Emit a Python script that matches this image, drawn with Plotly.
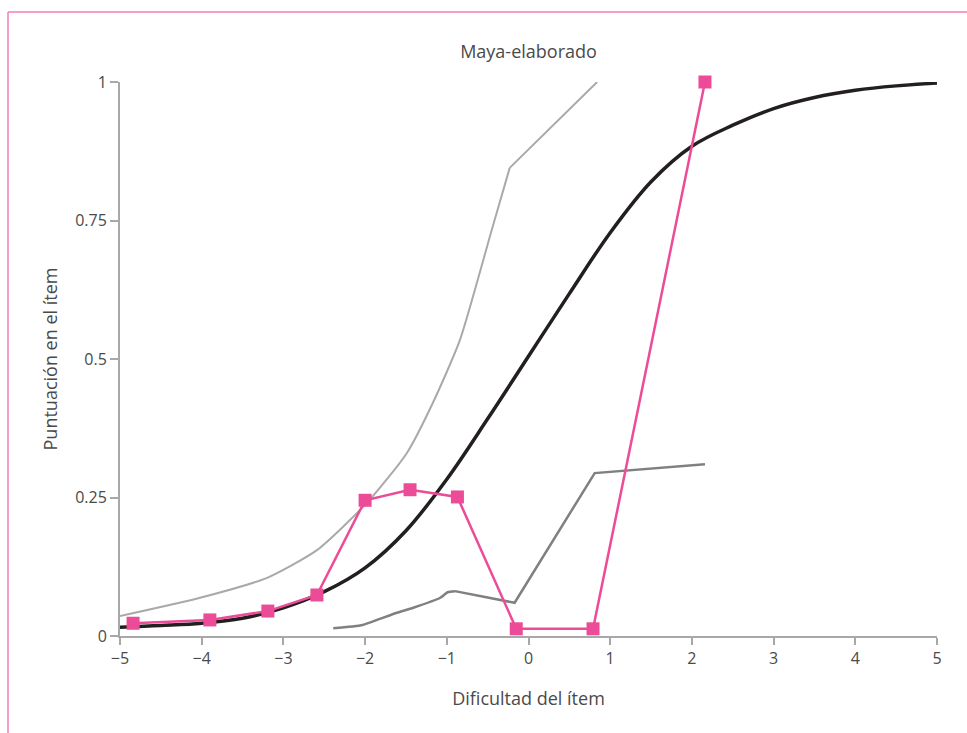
import plotly.graph_objects as go

# Observed item scores (pink squares)
obs_x = [-4.84, -3.90, -3.19, -2.59, -2.00, -1.45, -0.87, -0.15, 0.79, 2.16]
obs_y = [0.023, 0.029, 0.045, 0.074, 0.245, 0.264, 0.251, 0.013, 0.013, 1.0]

# Expected score curve (thick black)
exp_x = [-5.0, -4.5, -4.0, -3.5, -3.0, -2.5, -2.0, -1.5, -1.0, -0.5, 0.0,
         0.5, 1.0, 1.5, 2.0, 2.5, 3.0, 3.5, 4.0, 4.5, 5.0]
exp_y = [0.016, 0.019, 0.023, 0.032, 0.051, 0.080, 0.123, 0.19, 0.283, 0.392, 0.505,
         0.618, 0.728, 0.820, 0.884, 0.922, 0.952, 0.972, 0.985, 0.993, 0.998]

# Upper band (light grey)
up_x = [-5.0, -4.02, -3.20, -2.59, -1.98, -1.49, -1.17, -0.84, -0.45, -0.23, 0.84]
up_y = [0.036, 0.069, 0.105, 0.155, 0.240, 0.330, 0.421, 0.534, 0.733, 0.845, 1.0]

# Lower band (dark grey)
lo_x = [-2.39, -2.03, -1.82, -1.61, -1.41, -1.08, -0.99, -0.90, -0.17, 0.81, 2.16]
lo_y = [0.014, 0.020, 0.031, 0.042, 0.051, 0.069, 0.079, 0.081, 0.060, 0.294, 0.310]

x_ticks = [-5, -4, -3, -2, -1, 0, 1, 2, 3, 4, 5]
y_ticks = [0, 0.25, 0.5, 0.75, 1]
y_tick_text = ["0", "0.25", "0.5", "0.75", "1"]

FONT = "Open Sans"
TEXT = "#4a4a4a"
AXIS = "#a8a8a8"

fig = go.Figure()
# upper band: smooth rise, then a straight segment after the bend
fig.add_trace(go.Scatter(x=up_x[:-1], y=up_y[:-1], mode="lines",
                         line=dict(color="#a9a9a9", width=2, shape="spline", smoothing=0.6),
                         cliponaxis=False))
fig.add_trace(go.Scatter(x=up_x[-2:], y=up_y[-2:], mode="lines",
                         line=dict(color="#a9a9a9", width=2), cliponaxis=False))
# lower band: smooth start, then straight segments
fig.add_trace(go.Scatter(x=lo_x[:8], y=lo_y[:8], mode="lines",
                         line=dict(color="#808080", width=2.5, shape="spline", smoothing=0.6),
                         cliponaxis=False))
fig.add_trace(go.Scatter(x=lo_x[7:], y=lo_y[7:], mode="lines",
                         line=dict(color="#808080", width=2.5), cliponaxis=False))
fig.add_trace(go.Scatter(x=exp_x, y=exp_y, mode="lines",
                         line=dict(color="#231f20", width=3.5, shape="spline", smoothing=1.0),
                         cliponaxis=False))
fig.add_trace(go.Scatter(x=obs_x, y=obs_y, mode="lines+markers",
                         line=dict(color="#ec4b97", width=2.5),
                         marker=dict(symbol="square", size=13, color="#ec4b97"),
                         cliponaxis=False))

W, H = 967, 733
L, R, T, B = 120, 30, 82, 97
pw, ph = W - L - R, H - T - B


def px_to_paper(px, py):
    return (px - L) / pw, (H - B - py) / ph


# Pink frame along the top and left edges
fx0, fy0 = px_to_paper(8, 12)
fx1, _ = px_to_paper(967, 12)
_, fyb = px_to_paper(8, 733)
frame = "#f27fb6"
fig.add_shape(type="line", xref="paper", yref="paper", x0=fx0, y0=fy0, x1=fx1, y1=fy0,
              line=dict(color=frame, width=1.5))
fig.add_shape(type="line", xref="paper", yref="paper", x0=fx0, y0=fy0, x1=fx0, y1=fyb,
              line=dict(color=frame, width=1.5))

fig.update_layout(
    width=W, height=H,
    margin=dict(l=L, r=R, t=T, b=B),
    paper_bgcolor="white", plot_bgcolor="white",
    showlegend=False,
    font=dict(family=FONT, color=TEXT, size=15),
    title=dict(text="Maya-elaborado", x=(L + pw / 2) / W, xanchor="center",
               y=1 - 52 / H, yanchor="middle",
               font=dict(family=FONT, size=18, color=TEXT)),
    xaxis=dict(range=[-5, 5], tickvals=x_ticks, showgrid=False, zeroline=False,
               showline=True, linecolor=AXIS, linewidth=2,
               ticks="outside", ticklen=7, tickcolor=AXIS, tickwidth=1.5,
               tickfont=dict(size=16, color=TEXT),
               title=dict(text="Dificultad del ítem", standoff=24,
                          font=dict(size=18, color=TEXT))),
    yaxis=dict(range=[0, 1], tickvals=y_ticks, ticktext=y_tick_text, showgrid=False,
               zeroline=False, showline=True, linecolor=AXIS, linewidth=2,
               ticks="outside", ticklen=8, tickcolor=AXIS, tickwidth=1.5,
               tickfont=dict(size=16, color=TEXT),
               title=dict(text="Puntuación en el ítem", standoff=13,
                          font=dict(size=18, color=TEXT))),
)

fig.write_html("out.html")
